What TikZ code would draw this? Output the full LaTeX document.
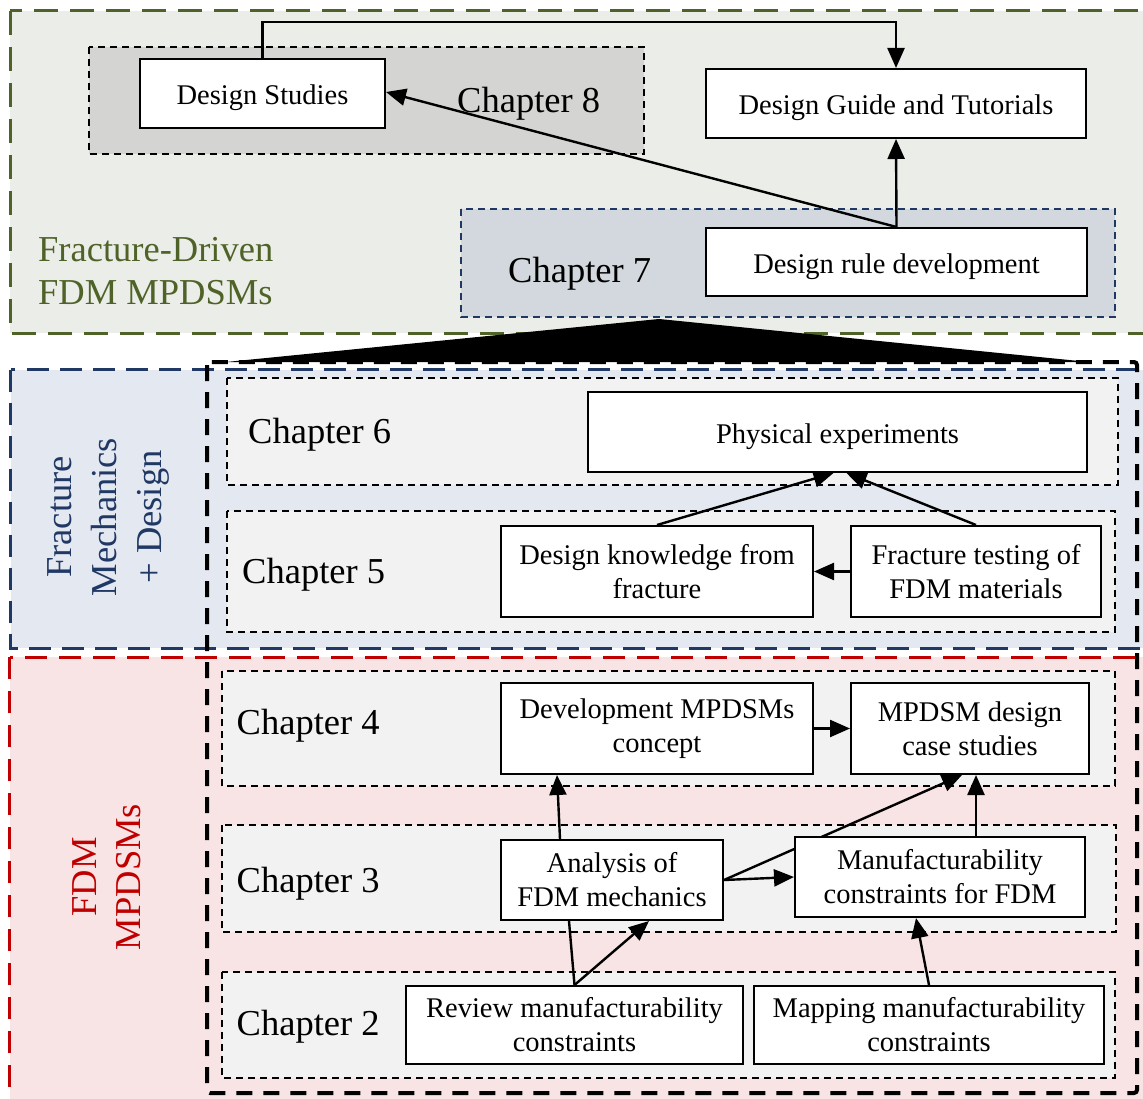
\documentclass[tikz,border=0pt]{standalone}
\usepackage{fontspec}
\setmainfont{Liberation Serif}
\usetikzlibrary{arrows.meta}
\definecolor{olivedark}{HTML}{4F6228}
\definecolor{greenfill}{HTML}{EBEDE8}
\definecolor{navy}{HTML}{203864}
\definecolor{bluefill}{HTML}{E4E8F0}
\definecolor{darkred}{HTML}{C00000}
\definecolor{redfill}{HTML}{F8E4E4}
\definecolor{chapfill}{HTML}{F2F2F2}
\definecolor{chaeightfill}{HTML}{D4D5D2}
\definecolor{chasevenfill}{HTML}{D2D8DD}
\pgfdeclarelayer{bg}
\pgfdeclarelayer{edges}
\pgfsetlayers{bg,edges,main}
\newcommand\boxfont{\fontsize{28.5}{34}\selectfont}
\newcommand\chapfont{\fontsize{36.5}{44}\selectfont}
\begin{document}
\begin{tikzpicture}[x=1pt,y=-1pt,
  box/.style={draw, line width=2pt, fill=white, align=center, inner sep=0pt, font=\boxfont},
  oneline/.style={text height=23pt, text depth=0pt},
  chapbox/.style={line width=1.6pt, dash pattern=on 7pt off 5pt},
  chaplabel/.style={anchor=base west, inner sep=0pt, font=\chapfont},
  sidelabel/.style={inner sep=0pt, align=center},
  link/.style={line width=2.4pt, -{Triangle[length=20pt,width=17pt]}},
  plainlink/.style={line width=2.4pt},
  section/.style={line width=3pt}
]
\useasboundingbox (0,0) rectangle (1143,1099);

% ---------- sections and chapter frames ----------
\begin{pgfonlayer}{bg}
  % Fracture-Driven FDM MPDSMs
  \draw[section, draw=olivedark, fill=greenfill, dash pattern=on 24pt off 12pt]
    (10,11) rectangle (1170,333);
  % Fracture Mechanics + Design
  \draw[section, draw=navy, fill=bluefill, dash pattern=on 22pt off 11pt]
    (10.5,369.5) rectangle (1170,648);
  % FDM MPDSMs
  \draw[section, draw=darkred, fill=redfill, dash pattern=on 22pt off 12pt]
    (9.5,657) rectangle (1170,1130);
  % frame gathering chapters 2--6
  \draw[line width=4pt, dash pattern=on 16pt off 11pt, rounded corners=3pt]
    (207,362) rectangle (1137,1093);

  % chapter frames
  \draw[chapbox, fill=chaeightfill] (89,47) rectangle (644,154);
  \draw[chapbox, draw=navy, fill=chasevenfill] (461,209) rectangle (1115,317);
  \draw[chapbox, fill=chapfill] (227,378) rectangle (1118,485);
  \draw[chapbox, fill=chapfill] (227,511) rectangle (1115,632);
  \draw[chapbox, fill=chapfill] (222,671) rectangle (1115,786);
  \draw[chapbox, fill=chapfill] (222,825) rectangle (1116,932);
  \draw[chapbox, fill=chapfill] (222,972) rectangle (1115,1078);
\end{pgfonlayer}

% ---------- labels ----------
\node[chaplabel] (l8) at (457,113) {Chapter 8};
\node[chaplabel] (l7) at (508,283) {Chapter 7};
\node[chaplabel] (l6) at (248,443) {Chapter 6};
\node[chaplabel] (l5) at (242,583) {Chapter 5};
\node[chaplabel] (l4) at (236.5,734) {Chapter 4};
\node[chaplabel] (l3) at (236.5,892) {Chapter 3};
\node[chaplabel] (l2) at (236.5,1035) {Chapter 2};

\node[chaplabel, text=olivedark] (gla) at (38,262) {Fracture-Driven};
\node[chaplabel, text=olivedark] (glb) at (38,305) {FDM MPDSMs};
\node[sidelabel, rotate=90, text=navy, font=\fontsize{36.5}{45}\selectfont]
  (blab) at (108,517) {Fracture\\Mechanics\\+ Design};
\node[sidelabel, rotate=90, text=darkred, font=\fontsize{36.5}{44}\selectfont]
  (rlab) at (107,877) {FDM\\MPDSMs};

% ---------- boxes ----------
\node[box, oneline, minimum width=245pt, minimum height=69pt] (ds) at (262.5,93.5) {Design Studies};
\node[box, oneline, minimum width=380pt, minimum height=69pt] (dg) at (896,103.5) {Design Guide and Tutorials};
\node[box, oneline, minimum width=381pt, minimum height=68pt] (dr) at (896.5,262) {Design rule development};
\node[box, oneline, minimum width=499pt, minimum height=80pt] (pe) at (837.5,432) {Physical experiments};
\node[box, minimum width=312pt, minimum height=91pt] (dk) at (657,571.5) {Design knowledge from\\fracture};
\node[box, minimum width=250pt, minimum height=91pt] (ft) at (976,571.5) {Fracture testing of\\FDM materials};
\node[box, minimum width=312pt, minimum height=91pt] (dm) at (657,728.5) {Development MPDSMs\\concept};
\node[box, minimum width=238pt, minimum height=91pt] (cs) at (970,728.5) {MPDSM design\\case studies};
\node[box, minimum width=222pt, minimum height=80pt] (an) at (612,880) {Analysis of\\FDM mechanics};
\node[box, minimum width=290pt, minimum height=80pt] (mc) at (940,877) {Manufacturability\\constraints for FDM};
\node[box, minimum width=337pt, minimum height=78pt] (rv) at (574.5,1025) {Review manufacturability\\constraints};
\node[box, minimum width=350pt, minimum height=78pt] (mp) at (929,1025) {Mapping manufacturability\\constraints};

% ---------- connectors ----------
\coordinate (topbend) at (262.5,22);
\coordinate (apex) at (659,319);
\coordinate (baseL) at (226,362);
\coordinate (baseR) at (1089,362);
\begin{pgfonlayer}{edges}
  % chapter 7 expands into chapters 2--6
  \fill (apex) -- (baseL) -- (baseR) -- cycle;

  \draw[link] (ds.north) -- (ds.north |- topbend) -- (dg.north |- topbend) -- (dg.north);
  \draw[link] (dr.north) -- (dg.south);
  \draw[link] (dr.north) -- ([yshift=1.5pt]ds.east);

  \draw[link] (dk.north) -- ([xshift=-4pt]pe.south);
  \draw[link] (ft.north) -- ([xshift=9pt]pe.south);
  \draw[link] (ft.west) -- (dk.east);

  \draw[link] (dm.east) -- (cs.west);
  \draw[link] ([xshift=-52pt]an.north) -- ([xshift=-100pt]dm.south);
  \draw[link] (an.east) -- (mc.west);
  \draw[link] (an.east) -- ([xshift=-8pt]cs.south);
  \draw[link] ([xshift=36pt]mc.north) -- ([xshift=6pt]cs.south);

  \draw[plainlink] (rv.north) -- ([xshift=-43pt]an.south);
  \draw[link] (rv.north) -- ([xshift=37pt]an.south);
  \draw[link] (mp.north) -- ([xshift=-24pt]mc.south);
\end{pgfonlayer}
\end{tikzpicture}
\end{document}
